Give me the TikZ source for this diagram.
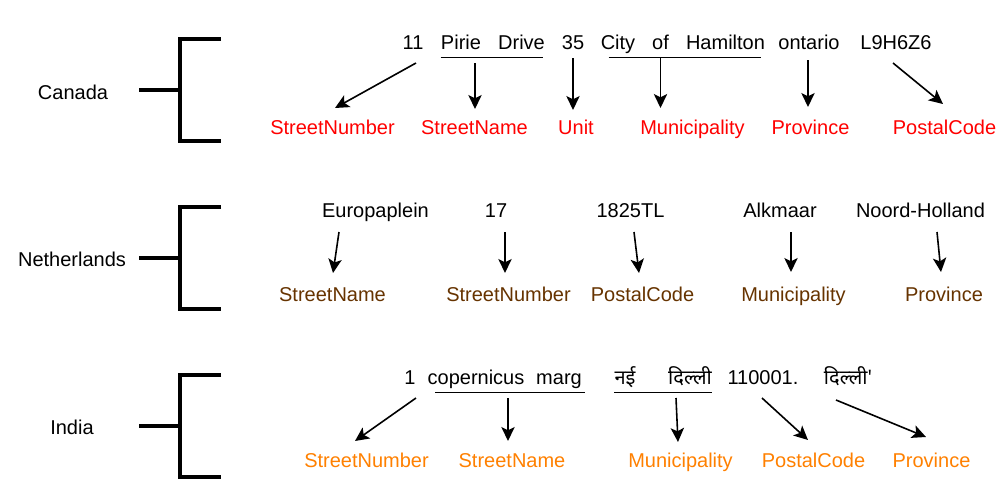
\documentclass[tikz,border=0pt]{standalone}
\usepackage{fontspec}
\setmainfont{Liberation Sans}
\newfontfamily\deva[Script=Devanagari]{Noto Sans}
\usetikzlibrary{arrows.meta,calc}

\definecolor{nlbrown}{RGB}{102,51,0}
\definecolor{inorange}{RGB}{255,128,0}

\tikzset{
    word/.style={font=\fontsize{15}{18}\selectfont, inner sep=0pt, text height=11pt, text depth=3pt},
    lab/.style={word},
    arr/.style={line width=1.2pt, -{Stealth[length=10.5pt,width=10pt,inset=2.5pt]}},
    uline/.style={line width=1.1pt},
    bracket/.style={line width=2.3pt}
}

\begin{document}
\begin{tikzpicture}[x=0.75pt,y=-0.75pt]
    \useasboundingbox (0,0) rectangle (1004,486);

    % countries and brackets
    \node[word] (canada) at (73,94) {Canada};
    \node[word] (nl) at (72,261) {Netherlands};
    \node[word] (india) at (72,429) {India};
    \foreach \y in {90,258,426}
        \draw[bracket] (139,\y) -- (180,\y) (221,\y-51) -- (180,\y-51) -- (180,\y+51) -- (221,\y+51);

    % Canada
    \node[word] (c11) at (413,44) {11};
    \node[word] (cpirie) at (461,44) {Pirie};
    \node[word] (cdrive) at (521.5,44) {Drive};
    \node[word] (c35) at (573,44) {35};
    \node[word] (ccity) at (618,44) {City};
    \node[word] (cof) at (660.5,44) {of};
    \node[word] (cham) at (725.5,44) {Hamilton};
    \node[word] (cont) at (809,44) {ontario};
    \node[word] (cpc) at (896,44) {L9H6Z6};

    \node[lab,red] (csnum) at (332.5,129) {StreetNumber};
    \node[lab,red] (csname) at (474.5,129) {StreetName};
    \node[lab,red] (cunit) at (576,129) {Unit};
    \node[lab,red] (cmun) at (692.5,129) {Municipality};
    \node[lab,red] (cprov) at (810.5,129) {Province};
    \node[lab,red] (cpost) at (944.5,129) {PostalCode};

    \draw[uline] ($(cpirie.south west)+(0,4)$) -- ($(cdrive.south east)+(-2,4)$);
    \draw[uline] ($(ccity.south west)+(8,4)$) -- ($(cham.south east)+(-4,4)$);

    \draw[arr] ($(c11)+(3,19)$) -- ($(csnum)+(2.5,-21)$);
    \draw[arr] ($(cpirie)+(14,19)$) -- ($(csname)+(0.5,-20)$);
    \draw[arr] ($(c35)+(0,14)$) -- ($(cunit)+(-3,-19)$);
    \draw[arr] ($(cof)+(0,14)$) -- ($(cmun)+(-32,-21)$);
    \draw[arr] ($(cont)+(-1,16)$) -- ($(cprov)+(-2.5,-22)$);
    \draw[arr] ($(cpc)+(-3,19)$) -- ($(cpost)+(-1.5,-25)$);

    % Netherlands
    \node[word] (neuro) at (375.5,212) {Europaplein};
    \node[word] (n17) at (496,212) {17};
    \node[word] (npc) at (630.5,212) {1825TL};
    \node[word] (nalk) at (780,212) {Alkmaar};
    \node[word] (nnh) at (920.5,212) {Noord-Holland};

    \node[lab,nlbrown] (nsname) at (332.5,296) {StreetName};
    \node[lab,nlbrown] (nsnum) at (508.5,296) {StreetNumber};
    \node[lab,nlbrown] (npost) at (642.5,296) {PostalCode};
    \node[lab,nlbrown] (nmun) at (793.5,296) {Municipality};
    \node[lab,nlbrown] (nprov) at (944,296) {Province};

    \draw[arr] ($(neuro)+(-36.5,20)$) -- ($(nsname)+(0.5,-23)$);
    \draw[arr] ($(n17)+(9,20)$) -- ($(nsnum)+(-3.5,-23)$);
    \draw[arr] ($(npc)+(3.5,20)$) -- ($(npost)+(-3.5,-23)$);
    \draw[arr] ($(nalk)+(11,20)$) -- ($(nmun)+(-2.5,-24)$);
    \draw[arr] ($(nnh)+(16.5,20)$) -- ($(nprov)+(-3,-24)$);

    % India
    \node[word] (i1) at (410,379) {1};
    \node[word] (icop) at (476,379) {copernicus};
    \node[word] (imarg) at (559,379) {marg};
    \node[word] (inai) at (625,379) {\deva नई};
    \node[word] (idilli) at (690,379) {\deva दिल्ली};
    \node[word] (ipc) at (763,379) {110001.};
    \node[word] (idilli2) at (848,379) {\deva दिल्ली'};

    \node[lab,inorange] (isnum) at (366.5,462) {StreetNumber};
    \node[lab,inorange] (isname) at (512,462) {StreetName};
    \node[lab,inorange] (imun) at (680.5,462) {Municipality};
    \node[lab,inorange] (ipost) at (813.5,462) {PostalCode};
    \node[lab,inorange] (iprov) at (931.5,462) {Province};

    \draw[uline] ($(icop.south west)+(8,4)$) -- ($(imarg.south east)+(3,4)$);
    \draw[uline] ($(inai.south west)+(0,4)$) -- ($(idilli.south east)+(0,4)$);

    \draw[arr] ($(i1)+(6,19)$) -- ($(isnum)+(-11.5,-21)$);
    \draw[arr] ($(icop)+(32,19)$) -- ($(isname)+(-4,-21)$);
    \draw[arr] ($(idilli)+(-14,19)$) -- ($(imun)+(-2.5,-20)$);
    \draw[arr] ($(ipc)+(-1,19)$) -- ($(ipost)+(-5.5,-22)$);
    \draw[arr] ($(idilli2)+(-12,21)$) -- ($(iprov)+(-5.5,-25)$);
\end{tikzpicture}
\end{document}
